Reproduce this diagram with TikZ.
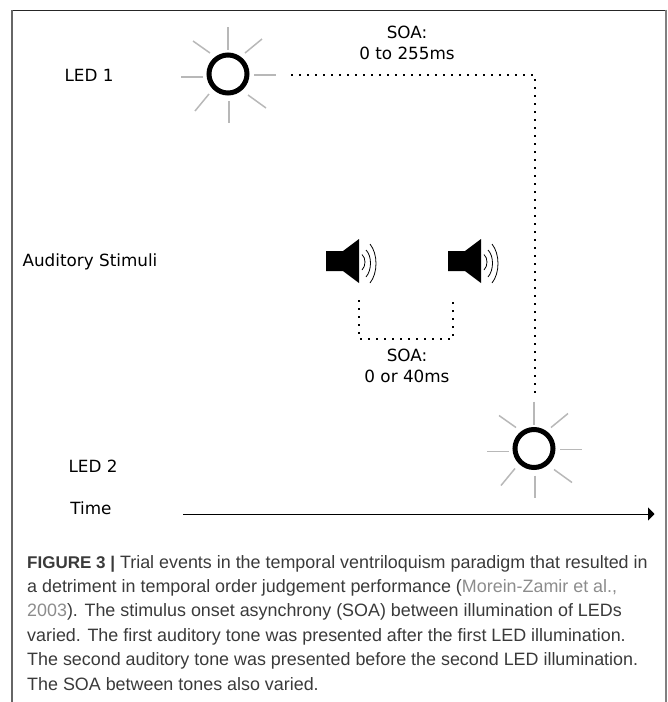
\documentclass[tikz,border=0pt]{standalone}
\usepackage{fontspec}
\setmainfont{DejaVu Sans}
\newfontfamily\capfont{Liberation Sans}
\usepackage{xcolor}
\usetikzlibrary{arrows.meta, positioning}
\definecolor{raygray}{HTML}{B8B8B8}
\definecolor{captext}{HTML}{3A3A3A}
\definecolor{capcite}{HTML}{8C8C8C}

\begin{document}
\begin{tikzpicture}[
  x=1pt, y=-1pt,
  label/.style={align=center, inner sep=0pt, font=\fontsize{16.8}{21}\selectfont},
  ring/.style={circle, draw, line width=5pt, minimum size=38pt, inner sep=0pt},
  ray/.style={raygray, line width=1.5pt},
  dotline/.style={line width=1.8pt, dash pattern=on 1.8pt off 6.2pt},
  wave/.style={line width=0.8pt},
  arrow/.style={-{Triangle[length=6.5pt,width=13pt]}, line width=1pt}
]
\useasboundingbox (0,0) rectangle (668,702);

% Frame
\draw[line width=1pt, black!85] (12,10) -- (665.5,10);
\draw[line width=1.2pt, black!60] (12,10) -- (12,702);
\draw[line width=2pt, black!50] (665.5,9.5) -- (665.5,702);

% Row labels
\node[label] (led1label) at (89,75.5) {LED 1};
\node[label] (audlabel) at (90,262) {Auditory Stimuli};
\node[label] (led2label) at (93,466) {LED 2};
\node[label] (timelabel) at (91,508) {Time};

% LEDs
\foreach \cx/\cy/\nm in {228/74/led1, 534/448.5/led2} {
  \node[ring] (\nm) at (\cx,\cy) {};
  \foreach \xa/\ya/\xb/\yb in {0/-47/0/-24, 26/1/48/1, -47/3/-25/3, 1/27/1/49, 17/-21/34/-35, -35/-33/-18/-21, -33/37/-19/20, 20/21/38/34}
    \draw[ray] (\cx+\xa,\cy+\ya) -- (\cx+\xb,\cy+\yb);
}

% Speakers
\foreach \sx in {0,122} {
  \fill (326+\sx,251) -- (343+\sx,251) -- (359+\sx,239) -- (359+\sx,283) -- (343+\sx,271) -- (326+\sx,271) -- cycle;
  \draw[wave] (362+\sx,254.5) .. controls (366+\sx,258) and (366+\sx,266) .. (362+\sx,270);
  \draw[wave] (366+\sx,250) .. controls (372+\sx,256) and (372+\sx,270) .. (366+\sx,277);
  \draw[wave] (370+\sx,244) .. controls (378+\sx,254) and (378+\sx,273) .. (370+\sx,283);
}

% SOA between LEDs
\coordinate (soastart) at (291,75);
\coordinate (soaend) at (535,394);
\draw[dotline] (soastart) -| (soaend);
\node[label] (soaled) at (407,43) {SOA:\\0 to 255ms};

% SOA between tones
\coordinate (tone1) at (359,300);
\coordinate (tone2) at (453,300);
\draw[dotline] (tone1) -- ++(0,39) -| (tone2);
\node[label] (soatone) at (407,366) {SOA:\\0 or 40ms};

% Time axis
\coordinate (timestart) at (183,514);
\coordinate (timeend) at (654.5,514);
\draw[arrow] (timestart) -- (timeend);

% Caption
\node[anchor=north west, align=left, inner sep=0pt, text=captext, font=\capfont\fontsize{17.9}{24.4}\selectfont] (caption) at (27,555) {%
{\fontsize{17}{24.4}\selectfont\textbf{FIGURE 3 |}} Trial events in the temporal ventriloquism paradigm that resulted in\\
a detriment in temporal order judgement performance (\textcolor{capcite}{Morein-Zamir et al.,}\\
\textcolor{capcite}{2003}). The stimulus onset asynchrony (SOA) between illumination of LEDs\\
varied. The first auditory tone was presented after the first LED illumination.\\
The second auditory tone was presented before the second LED illumination.\\
The SOA between tones also varied.};

\end{tikzpicture}
\end{document}
